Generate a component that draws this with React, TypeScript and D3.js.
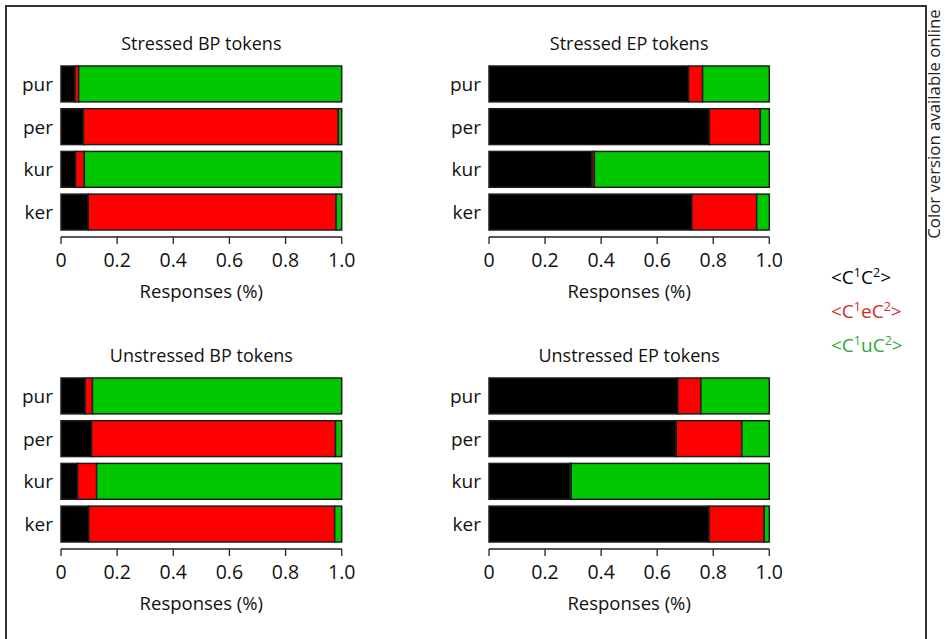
import React from "react";
import * as d3 from "d3";

const categories = ["pur", "per", "kur", "ker"];
const tickValues = [0, 0.2, 0.4, 0.6, 0.8, 1.0];
const seriesNames = ["C1C2", "C1eC2", "C1uC2"];
const panelTitles = ["Stressed BP tokens", "Stressed EP tokens", "Unstressed BP tokens", "Unstressed EP tokens"];

// values per category (pur, per, kur, ker)
const stressedBP_C1C2 = [0.05, 0.08, 0.052, 0.097];
const stressedBP_C1eC2 = [0.013, 0.908, 0.031, 0.883];
const stressedBP_C1uC2 = [0.937, 0.012, 0.917, 0.02];

const stressedEP_C1C2 = [0.712, 0.786, 0.368, 0.724];
const stressedEP_C1eC2 = [0.05, 0.182, 0.008, 0.231];
const stressedEP_C1uC2 = [0.238, 0.032, 0.624, 0.045];

const unstressedBP_C1C2 = [0.086, 0.109, 0.059, 0.099];
const unstressedBP_C1eC2 = [0.026, 0.869, 0.068, 0.876];
const unstressedBP_C1uC2 = [0.888, 0.022, 0.873, 0.025];

const unstressedEP_C1C2 = [0.674, 0.668, 0.289, 0.785];
const unstressedEP_C1eC2 = [0.082, 0.234, 0.004, 0.197];
const unstressedEP_C1uC2 = [0.244, 0.098, 0.707, 0.018];

const panelSeries = [
  [stressedBP_C1C2, stressedBP_C1eC2, stressedBP_C1uC2],
  [stressedEP_C1C2, stressedEP_C1eC2, stressedEP_C1uC2],
  [unstressedBP_C1C2, unstressedBP_C1eC2, unstressedBP_C1uC2],
  [unstressedEP_C1C2, unstressedEP_C1eC2, unstressedEP_C1uC2],
];

const barColors = ["#000000", "#ff0000", "#00c800"];
const legendColors = ["#000000", "#d42a2a", "#2ea83a"];
const FONT = "'Open Sans', 'Noto Sans', sans-serif";

const panelLayout = [
  { x0: 61, x1: 341.7, y0: 66, y1: 230 },
  { x0: 489, x1: 769.3, y0: 66, y1: 230 },
  { x0: 61, x1: 341.7, y0: 378, y1: 542 },
  { x0: 489, x1: 769.3, y0: 378, y1: 542 },
];

function Panel({ idx }: { idx: number }) {
  const L = panelLayout[idx];
  const x = d3.scaleLinear().domain([0, 1]).range([L.x0, L.x1]);
  const y = d3.scaleBand<string>().domain(categories).range([L.y0, L.y1]).paddingInner(0.16).paddingOuter(0);
  const series = panelSeries[idx];
  const stack = d3.stack<any, string>().keys(seriesNames);
  const rows = categories.map((c, i) => {
    const o: any = { cat: c };
    seriesNames.forEach((s, k) => (o[s] = series[k][i]));
    return o;
  });
  const stacked = stack(rows);
  const axisY = L.y1 + 7;
  const cx = (L.x0 + L.x1) / 2;
  return (
    <g>
      <text x={cx} y={L.y0 - 16} textAnchor="middle" fontSize={18} fill="#111" fontFamily={FONT}>
        {panelTitles[idx]}
      </text>
      {stacked.map((layer, k) => (
        <g key={k}>
          {layer.map((d, i) => (
            <rect
              key={i}
              x={x(d[0])}
              y={y(categories[i])}
              width={Math.max(0, x(d[1]) - x(d[0]))}
              height={y.bandwidth()}
              fill={barColors[k]}
              stroke="#1e1e1e"
              strokeWidth={1.5}
            />
          ))}
        </g>
      ))}
      {categories.map((c) => (
        <text key={c} x={L.x0 - 8} y={(y(c) as number) + y.bandwidth() / 2 + 7} textAnchor="end" fontSize={19} fill="#111" fontFamily={FONT}>
          {c}
        </text>
      ))}
      <line x1={x(0)} x2={x(1)} y1={axisY} y2={axisY} stroke="#222" strokeWidth={1.3} />
      {tickValues.map((t) => (
        <g key={t}>
          <line x1={x(t)} x2={x(t)} y1={axisY} y2={axisY + 7} stroke="#222" strokeWidth={1.3} />
          <text x={x(t)} y={axisY + 30} textAnchor="middle" fontSize={19.5} fill="#111" fontFamily={FONT}>
            {t === 0 ? "0" : t.toFixed(1)}
          </text>
        </g>
      ))}
      <text x={cx} y={axisY + 61} textAnchor="middle" fontSize={18.5} fill="#111" fontFamily={FONT}>
        Responses (%)
      </text>
    </g>
  );
}

function LegendItem({ k, yPos }: { k: number; yPos: number }) {
  const mid = k === 0 ? "" : k === 1 ? "e" : "u";
  return (
    <text x={831} y={yPos} fontSize={19} fill={legendColors[k]} fontFamily={FONT}>
      {"<C"}
      <tspan fontSize={12.5} dy={-7}>1</tspan>
      <tspan dy={7}>{mid + "C"}</tspan>
      <tspan fontSize={12.5} dy={-7}>2</tspan>
      <tspan dy={7}>{">"}</tspan>
    </text>
  );
}

export default function App() {
  return (
    <svg width={945} height={639} style={{ position: "absolute", left: 0, top: 0, background: "#fff" }}>
      <rect x={0} y={0} width={945} height={639} fill="#fff" />
      <path d="M6,645 L6,6 L926,6 L926,645" fill="none" stroke="#333" strokeWidth={2} />
      <text transform="translate(940,124) rotate(-90)" textAnchor="middle" fontSize={16.8} fill="#222" fontFamily={FONT}>
        Color version available online
      </text>
      {[0, 1, 2, 3].map((i) => (
        <Panel key={i} idx={i} />
      ))}
      <LegendItem k={0} yPos={284} />
      <LegendItem k={1} yPos={318} />
      <LegendItem k={2} yPos={352} />
    </svg>
  );
}
